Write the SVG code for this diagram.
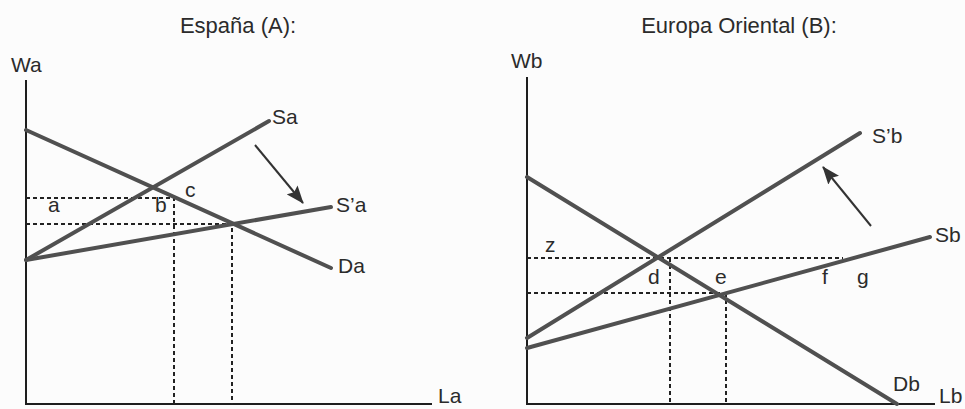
<svg xmlns="http://www.w3.org/2000/svg" width="965" height="409" viewBox="0 0 965 409">
<defs>
<style>
.t{font-family:"Liberation Sans",Arial,Helvetica,sans-serif;font-size:21px;fill:#2b2b2b}
.ttl{font-size:22px}
.ax{stroke:#1e1e1e;stroke-width:2;fill:none}
.cv{stroke:#505050;stroke-width:4;fill:none;stroke-linecap:round}
.ds{stroke:#222;stroke-width:2;stroke-dasharray:4 3;fill:none}
.ar{stroke:#333;stroke-width:2;fill:none}
</style>
<marker id="ah" markerUnits="userSpaceOnUse" markerWidth="18" markerHeight="14" viewBox="0 0 18 14" refX="17" refY="7" orient="auto">
<path d="M0,0 L18,7 L0,14 L3,7 Z" fill="#333"/>
</marker>
</defs>
<rect width="965" height="409" fill="#fcfcfc"/>

<g id="panelA">
<text class="t ttl" x="238" y="33" text-anchor="middle">España (A):</text>
<g id="axesA">
<path class="ax" d="M26,80 V404 H432"/>
<text class="t" x="438" y="403">La</text>
<text class="t" x="11" y="72">Wa</text>
</g>
<g id="dashA">
<path class="ds" d="M26,198 H174 V404"/>
<path class="ds" d="M26,224 H232 V404"/>
</g>
<g id="Da"><path class="cv" d="M26,130 L331,268"/><text class="t" x="338" y="273">Da</text></g>
<g id="Sa"><path class="cv" d="M26,260 L269,121"/><text class="t" x="272" y="124">Sa</text></g>
<g id="S'a"><path class="cv" d="M26,260 L331,207"/><text class="t" x="336" y="212">S’a</text></g>
<g id="labelsA">
<text class="t" x="48" y="212">a</text>
<text class="t" x="155" y="212">b</text>
<text class="t" x="185" y="197">c</text>
</g>
<g id="connectorsA"><path class="ar" d="M255,145 L303,203" marker-end="url(#ah)"/></g>
</g>

<g id="panelB">
<text class="t ttl" x="739" y="33" text-anchor="middle">Europa Oriental (B):</text>
<g id="axesB">
<path class="ax" d="M527,77 V404 H935"/>
<text class="t" x="511" y="68">Wb</text>
<text class="t" x="939" y="403">Lb</text>
</g>
<g id="dashB">
<path class="ds" d="M527,258 H843"/>
<path class="ds" d="M670,258 V404"/>
<path class="ds" d="M527,293 H720"/>
<path class="ds" d="M726,293 V404"/>
</g>
<g id="Db"><path class="cv" d="M527,177 L897,404"/><text class="t" x="893" y="391">Db</text></g>
<g id="S'b"><path class="cv" d="M527,338 L860,133"/><text class="t" x="872" y="143">S’b</text></g>
<g id="Sb"><path class="cv" d="M527,348 L930,237"/><text class="t" x="935" y="242">Sb</text></g>
<g id="labelsB">
<text class="t" x="545" y="252">z</text>
<text class="t" x="648" y="284">d</text>
<text class="t" x="715" y="284">e</text>
<text class="t" x="822" y="284">f</text>
<text class="t" x="857" y="284">g</text>
</g>
<g id="connectorsB"><path class="ar" d="M871,226 L823,167" marker-end="url(#ah)"/></g>
</g>
</svg>
